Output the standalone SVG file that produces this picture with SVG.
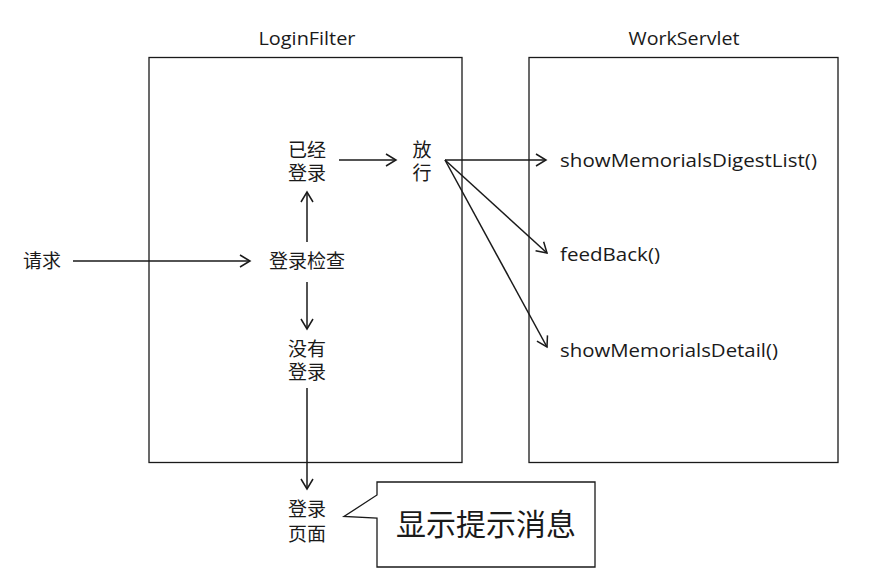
<svg xmlns="http://www.w3.org/2000/svg" width="872" height="587" viewBox="0 0 872 587">
<defs>
<style>
.box{fill:none;stroke:#1a1a1a;stroke-width:1.3}
.ln{fill:none;stroke:#1a1a1a;stroke-width:1.5;marker-end:url(#ah)}
.cn{font-family:"Noto Sans CJK SC","Noto Sans",sans-serif;font-size:19px;fill:#1a1a1a;text-anchor:middle}
.en{font-family:"Open Sans","Liberation Sans",sans-serif;font-size:18px;fill:#1a1a1a}
</style>
<marker id="ah" markerUnits="userSpaceOnUse" markerWidth="14" markerHeight="16" refX="11" refY="7" orient="auto">
<path d="M1,1 L11,7 L1,13" fill="none" stroke="#1a1a1a" stroke-width="1.5"/>
</marker>
</defs>
<rect width="872" height="587" fill="#fff"/>
<g id="loginfilter">
<rect class="box" x="149" y="57.5" width="313" height="405"/>
<text class="en" x="307" y="45" text-anchor="middle" textLength="97" lengthAdjust="spacingAndGlyphs">LoginFilter</text>
</g>
<g id="workservlet">
<rect class="box" x="529" y="57.5" width="309" height="405"/>
<text class="en" x="684" y="45" text-anchor="middle" textLength="111" lengthAdjust="spacingAndGlyphs">WorkServlet</text>
</g>
<g id="request"><text class="cn" x="42" y="268">请求</text></g>
<g id="check"><text class="cn" x="307" y="268">登录检查</text></g>
<g id="loggedin"><text class="cn" x="307" y="157">已经<tspan x="307" dy="23">登录</tspan></text></g>
<g id="pass"><text class="cn" x="422" y="157">放<tspan x="422" dy="23">行</tspan></text></g>
<g id="notlogged"><text class="cn" x="307" y="356">没有<tspan x="307" dy="23">登录</tspan></text></g>
<g id="loginpage"><text class="cn" x="307" y="516">登录<tspan x="307" dy="25">页面</tspan></text></g>
<g id="m1"><text class="en" x="560" y="167" textLength="257" lengthAdjust="spacingAndGlyphs">showMemorialsDigestList()</text></g>
<g id="m2"><text class="en" x="560" y="261" textLength="100" lengthAdjust="spacingAndGlyphs">feedBack()</text></g>
<g id="m3"><text class="en" x="560" y="357" textLength="218" lengthAdjust="spacingAndGlyphs">showMemorialsDetail()</text></g>
<g id="callout">
<path class="box" d="M377,482 L595,482 L595,567 L377,567 L377,518 L344,516.5 L377,495 Z"/>
<text x="486" y="535" text-anchor="middle" style="font-family:'Noto Sans CJK SC',sans-serif;font-size:30px;fill:#1a1a1a">显示提示消息</text>
</g>
<g id="connectors">
<line class="ln" x1="73" y1="261" x2="250" y2="261"/>
<line class="ln" x1="307" y1="242" x2="307" y2="192"/>
<line class="ln" x1="307" y1="282" x2="307" y2="329"/>
<line class="ln" x1="307" y1="388" x2="307" y2="489"/>
<line class="ln" x1="339" y1="160" x2="396" y2="160"/>
<line class="ln" x1="445" y1="160" x2="546" y2="160"/>
<line class="ln" x1="445" y1="160" x2="547" y2="253"/>
<line class="ln" x1="445" y1="160" x2="547" y2="347"/>
</g>
</svg>
